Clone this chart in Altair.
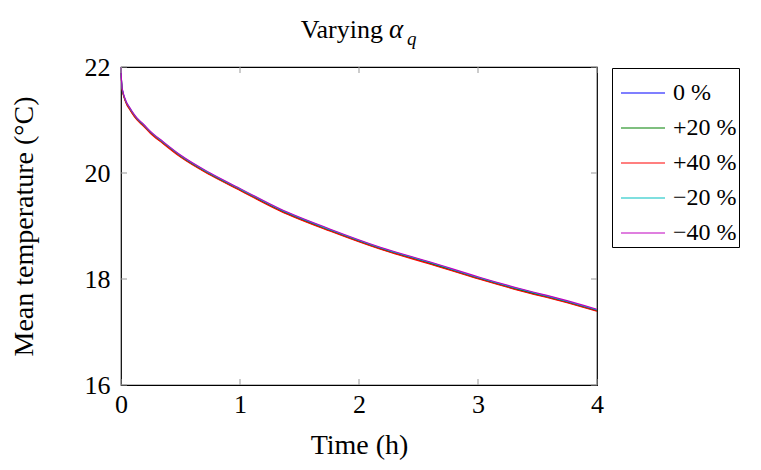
import altair as alt
import pandas as pd

# ---- data ----
time_h = [0.0, 0.003, 0.008, 0.015, 0.023, 0.035, 0.05, 0.07, 0.092, 0.134, 0.19, 0.246,
          0.35, 0.50, 0.75, 1.00, 1.34, 1.76, 2.18, 2.60, 3.02, 3.35, 3.70, 4.00]
temp_0 = [22.00, 21.80, 21.62, 21.53, 21.46, 21.38, 21.30, 21.23, 21.15, 21.02, 20.90, 20.77,
          20.58, 20.32, 19.98, 19.69, 19.30, 18.92, 18.58, 18.30, 18.01, 17.80, 17.60, 17.41]
temp_p20 = [22.00, 21.80, 21.61, 21.52, 21.45, 21.37, 21.29, 21.22, 21.14, 21.01, 20.89, 20.76,
            20.57, 20.31, 19.97, 19.68, 19.29, 18.91, 18.57, 18.29, 18.00, 17.79, 17.59, 17.40]
temp_p40 = [22.00, 21.79, 21.60, 21.51, 21.44, 21.36, 21.28, 21.21, 21.13, 21.00, 20.88, 20.75,
            20.56, 20.30, 19.96, 19.67, 19.28, 18.90, 18.56, 18.28, 17.99, 17.78, 17.58, 17.39]
temp_m20 = [22.00, 21.80, 21.63, 21.54, 21.47, 21.39, 21.31, 21.24, 21.16, 21.03, 20.91, 20.78,
            20.59, 20.33, 19.99, 19.70, 19.31, 18.93, 18.59, 18.31, 18.02, 17.81, 17.61, 17.42]
temp_m40 = [22.00, 21.81, 21.64, 21.55, 21.48, 21.40, 21.32, 21.25, 21.17, 21.04, 20.92, 20.79,
            20.60, 20.34, 20.00, 19.71, 19.32, 18.94, 18.60, 18.32, 18.03, 17.82, 17.62, 17.43]

series_names = ["0 %", "+20 %", "+40 %", "\u221220 %", "\u221240 %"]
series_colors = ["#0000ff", "#008000", "#ff0000", "#00bfbf", "#bf00bf"]
series_values = [temp_0, temp_p20, temp_p40, temp_m20, temp_m40]

x_ticks = [0, 1, 2, 3, 4]
y_ticks = [16, 18, 20, 22]

FONT = "Liberation Serif"
W, H = 476, 318
X_TITLE = "Time (h)"
Y_TITLE = "Mean temperature (°C)"

rows = []
for order, (name, vals) in enumerate(zip(series_names, series_values)):
    for t, v in zip(time_h, vals):
        rows.append({"time": t, "temp": v, "series": name, "order": order})
df = pd.DataFrame(rows)

xscale = alt.Scale(domain=[0, 4], nice=False, zero=False)
yscale = alt.Scale(domain=[16, 22], nice=False, zero=False)
xaxis = alt.Axis(values=x_ticks, format="d", labelPadding=6, titlePadding=14)
yaxis = alt.Axis(values=y_ticks, format="d", labelPadding=11, titlePadding=46)

lines = alt.Chart(df).mark_line(strokeWidth=1.1, interpolate="monotone").encode(
    x=alt.X("time:Q", scale=xscale, title=X_TITLE, axis=xaxis),
    y=alt.Y("temp:Q", scale=yscale, title=Y_TITLE, axis=yaxis),
    color=alt.Color("series:N", sort=series_names,
                    scale=alt.Scale(domain=series_names, range=series_colors),
                    legend=alt.Legend(title=None, orient="none", legendX=491, legendY=1,
                                      strokeColor="black", padding=2, fillColor="white",
                                      symbolType="stroke", symbolSize=1936, symbolStrokeWidth=1.2,
                                      symbolOffset=6,
                                      labelFont=FONT, labelFontSize=24, labelColor="black",
                                      labelOffset=7, rowPadding=0, labelLimit=200)),
    order=alt.Order("order:Q"),
)

xt = pd.DataFrame({"v": x_ticks})
yt = pd.DataFrame({"v": y_ticks})
tick_col = "#999999"
bt = alt.Chart(xt).mark_rule(color=tick_col, strokeWidth=1).encode(
    x=alt.X("v:Q", scale=xscale, title=X_TITLE, axis=xaxis), y=alt.value(H), y2=alt.value(H - 6))
tt = alt.Chart(xt).mark_rule(color=tick_col, strokeWidth=1).encode(
    x=alt.X("v:Q", scale=xscale, title=X_TITLE, axis=xaxis), y=alt.value(0), y2=alt.value(6))
lt = alt.Chart(yt).mark_rule(color=tick_col, strokeWidth=1).encode(
    y=alt.Y("v:Q", scale=yscale, title=Y_TITLE, axis=yaxis), x=alt.value(0), x2=alt.value(6))
rt = alt.Chart(yt).mark_rule(color=tick_col, strokeWidth=1).encode(
    y=alt.Y("v:Q", scale=yscale, title=Y_TITLE, axis=yaxis), x=alt.value(W), x2=alt.value(W - 6))

title_df = pd.DataFrame({"a": ["Varying"], "b": ["\u03b1"], "c": ["q"]})
t1 = alt.Chart(title_df).mark_text(font=FONT, fontSize=26, align="right", baseline="alphabetic",
                                   color="black").encode(
    text="a:N", x=alt.value(262), y=alt.value(-29))
t2 = alt.Chart(title_df).mark_text(font=FONT, fontSize=27, fontStyle="italic", align="left",
                                   baseline="alphabetic", color="black").encode(
    text="b:N", x=alt.value(268), y=alt.value(-29))
t3 = alt.Chart(title_df).mark_text(font=FONT, fontSize=19, fontStyle="italic", align="left",
                                   baseline="alphabetic", color="black").encode(
    text="c:N", x=alt.value(286), y=alt.value(-22))

chart = alt.layer(lines, bt, tt, lt, rt, t1, t2, t3).properties(
    width=W, height=H,
    background="white",
    autosize=alt.AutoSizeParams(type="none"),
    padding={"left": 121, "top": 67, "right": 164, "bottom": 85},
).configure_axis(
    domain=False, ticks=False, grid=False, labelFlush=False,
    labelFont=FONT, labelFontSize=26, labelColor="black",
    titleFont=FONT, titleFontSize=28, titleFontWeight="normal", titleColor="black",
).configure_legend(
    labelFont=FONT,
).configure_view(stroke="black", strokeWidth=1.2)

chart.save("out.html", embed_options={"renderer": "svg", "actions": False})
